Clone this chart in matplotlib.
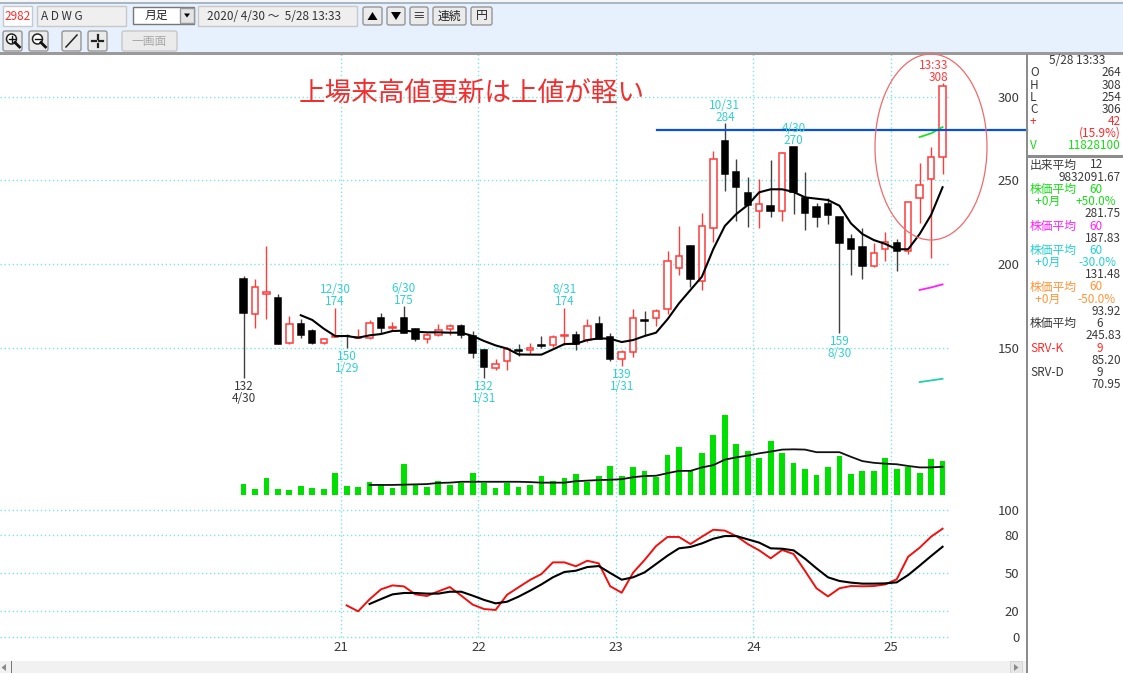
import numpy as np
import matplotlib
matplotlib.use("Agg")
import matplotlib.pyplot as plt
from matplotlib.patches import Ellipse, FancyBboxPatch, Rectangle, Circle, Polygon

plt.rcParams['font.family'] = ['Noto Sans CJK JP', 'DejaVu Sans']

W, H = 1123, 673

# Monthly candles, Apr 2020 .. May 2025
opens = [191, 170, 182, 180, 152.6, 164, 160, 152.8, 156.7, 157.3,
         156, 155.6, 168, 162, 168, 161, 155, 157.8, 161, 163.2,
         157, 148.4, 138, 142.3, 148.8, 148.4, 151.8, 151.8, 157, 157.8,
         154.8, 164.2, 156.2, 143.3, 147.3, 166.8, 168, 173, 197.8, 211,
         190, 221.7, 273.2, 254.7, 242.6, 231.6, 234.8, 231.6, 270, 239.6,
         233.8, 235.8, 227.9, 214.7, 210, 198.6, 209, 212.3, 207.8, 239.4,
         250.5, 264]
highs = [193, 191, 211, 182, 169, 167, 161, 156, 174, 158,
         161, 166.6, 171, 165.6, 175, 161.6, 159, 164.4, 164.4, 164,
         160, 149, 143, 150.6, 152, 153, 157, 157.6, 174, 160,
         167, 169, 159, 148.6, 173, 172, 173, 208, 222.7, 211.5,
         230.6, 267.7, 284, 262.7, 251.7, 250.5, 261.9, 267, 270, 254.7,
         236.2, 239.2, 228, 218, 221.7, 212.7, 218.9, 214.7, 237, 260.5,
         269.7, 308]
lows = [132, 162, 167, 152, 152, 156, 152, 152, 156.5, 150,
        156, 155, 158.6, 160.6, 158.6, 154, 152.6, 157.2, 157.6, 156,
        144, 132, 137, 137, 145, 146, 150, 150.6, 151.6, 148.6,
        153.2, 155, 142.3, 139, 144.3, 157.6, 163, 170, 193.4, 186.5,
        184.5, 213.3, 243.6, 225.7, 222.3, 221.5, 228.2, 225.7, 230, 220.3,
        222.3, 223.7, 159, 193.4, 190.9, 198, 202, 195.6, 206, 224.3,
        203.4, 254]
closes = [171, 186, 183, 152.4, 164, 157.6, 152.6, 155, 157, 157,
          156.5, 165, 162, 162.5, 159, 155, 157.4, 160.8, 163.2, 157.4,
          147, 138.3, 140, 149.3, 148.2, 149.9, 151, 156.4, 157.5, 152,
          163, 155.4, 143, 147.3, 168, 166.2, 172.1, 202, 204.8, 191,
          222.7, 262.7, 253.7, 245.8, 235.4, 235.6, 231.6, 266.5, 242.8, 230.4,
          227.9, 229.4, 212.7, 209, 198.8, 206.8, 213, 207.8, 236.8, 247.4,
          263.7, 306]

# 6 month average, starts at the 6th candle
ma6 = [169.4, 166.6, 161.4, 157, 157, 156, 157.4, 158.2, 160, 160.2,
       159.6, 159.2, 159.2, 159, 159, 157, 154, 151.4, 149.5, 146,
       145.9, 145.9, 149, 152.2, 152.4, 154.6, 155.6, 155.4, 153.4, 154.6,
       157, 159, 167, 176.5, 184.5, 192.4, 209, 222.7, 229.8, 235.2,
       242.8, 244.6, 244.6, 243, 239.8, 239, 238.2, 234.8, 224.3, 217.9,
       214.3, 212, 208.8, 208.8, 217.9, 229.3, 245.83]
# the 60 month envelopes only have the last three months
env_up = [275.8, 278, 281.75]
env_mid = [184.5, 186, 187.83]
env_down = [129.5, 130.5, 131.48]
resist = 280

# Volume, millions of shares
volume = [3.8, 2.0, 5.9, 2.0, 1.6, 3.1, 2.3, 2.0, 7.8, 3.1,
          2.8, 4.5, 3.4, 2.3, 10.8, 3.8, 2.8, 4.8, 3.4, 4.2,
          7.8, 4.2, 2.3, 4.2, 2.8, 3.4, 6.5, 4.8, 5.9, 7.3,
          4.5, 6.5, 10.2, 6.5, 9.6, 8.4, 6.3, 13.9, 16.7, 8.4,
          14.5, 21.0, 27.7, 17.6, 15.4, 13.0, 18.8, 14.5, 11.1, 9.0,
          6.9, 9.8, 13.6, 7.2, 8.4, 8.4, 13.0, 9.0, 9.8, 7.8,
          12.4, 11.83]
vol_ma = [3.5, 3.5, 3.5, 3.6, 3.7, 3.8, 4.2, 4.3, 4.6, 4.6,
          4.6, 4.6, 4.6, 4.6, 4.5, 4.3, 4.3, 4.3, 4.8, 5.0,
          5.2, 5.3, 5.5, 6.2, 6.6, 6.7, 7.6, 8.4, 8.4, 9.6,
          10.4, 12.3, 13.1, 13.7, 14.5, 15.1, 15.8, 15.9, 15.8, 14.9,
          14.9, 14.9, 13.3, 11.8, 11.2, 10.9, 10.7, 10.1, 9.6, 9.6,
          9.83]

# Stochastics
srv_k = [24.6, 19.9, 29.4, 37.3, 40.4, 39.6, 33.3, 32, 35.7, 39.1,
         32.3, 25.2, 21.7, 21, 33, 38.9, 44.7, 49.4, 58.6, 58.6,
         55.5, 59.9, 57.8, 39.7, 34.6, 50.5, 60.5, 71.5, 78.7, 78.7,
         73.1, 78.9, 84.4, 83.7, 79.4, 73.1, 68.1, 61.8, 68.4, 65.2,
         51.8, 38.1, 31.7, 38.1, 39.9, 39.7, 39.9, 41.2, 45.2, 63.1,
         70.2, 78.9, 85.2]
srv_d = [25.7, 29.6, 33.3, 34.4, 34.4, 33.9, 33.9, 35.4, 35.4, 32.3,
         28.9, 26.2, 27.5, 31.5, 36.2, 41.2, 46.8, 51, 52, 54.9,
         55.7, 50.2, 44.9, 46.8, 50.7, 57.3, 63.9, 69.7, 70.8, 73.6,
         77.3, 79.4, 79.4, 76.8, 74.2, 69.7, 69.4, 68.1, 61.5, 53.9,
         46.8, 43.9, 42.6, 41.8, 41.8, 42, 42.8, 48.6, 56, 63.6,
         70.95]

years = ['21', '22', '23', '24', '25']
year_pos = [8.5, 20.5, 32.5, 44.5, 56.5]
price_ticks = [150, 200, 250, 300]
srv_ticks = [0, 20, 50, 80, 100]

# high / low callouts: candle, text
high_notes = [(8, '12/30\n174'), (14, '6/30\n175'), (28, '8/31\n174'),
              (42, '10/31\n284'), (48, '4/30\n270')]
low_notes = [(9, '150\n1/29'), (21, '132\n1/31'), (33, '139\n1/31'), (52, '159\n8/30')]

ohlc_rows = [('O', '264', 'k'), ('H', '308', 'k'), ('L', '254', 'k'), ('C', '306', 'k'),
             ('+', '42', 'r'), ('', '(15.9%)', 'r'), ('V', '11828100', 'g')]
side_rows = [('出来平均', '12', 'k'), ('', '9832091.67', 'k'),
             ('株価平均', '60', 'g'), ('  +0月', '+50.0%', 'g'), ('', '281.75', 'k'),
             ('株価平均', '60', 'm'), ('', '187.83', 'k'),
             ('株価平均', '60', 'c'), ('  +0月', '-30.0%', 'c'), ('', '131.48', 'k'),
             ('株価平均', '60', 'o'), ('  +0月', '-50.0%', 'o'), ('', '93.92', 'k'),
             ('株価平均', '6', 'k'), ('', '245.83', 'k'),
             ('SRV-K', '9', 'r'), ('', '85.20', 'k'),
             ('SRV-D', '9', 'k'), ('', '70.95', 'k')]

RED = '#FF3B3B'
CYAN = '#35CFCF'
GRID = '#7FE3E3'
GREEN = '#00E000'
DARK = '#3A3A3A'
side_colors = {'k': DARK, 'r': '#FF2A2A', 'g': '#18DC18', 'm': '#FF20FF',
               'c': '#28CFCF', 'o': '#FF9438'}


def px_axes(x0, y0, x1, y1):
    ax = fig.add_axes([x0/W, 1 - y1/H, (x1 - x0)/W, (y1 - y0)/H])
    ax.patch.set_alpha(0)
    for s in ax.spines.values():
        s.set_visible(False)
    return ax


def dotted(ax):
    ax.grid(True, color=GRID, lw=1.0, linestyle=(0, (1, 1.9)), clip_on=False)
    ax.set_axisbelow(True)
    ax.set_xticks(year_pos)


fig = plt.figure(figsize=(W/100, H/100), dpi=100, facecolor='white')
xs = np.arange(len(closes))
xlim = ((0 - 243.5)/11.46, (950 - 243.5)/11.46)

# ---- price panel
ax = px_axes(0, 54, 950, 410)
ax.set_xlim(xlim)
ax.set_ylim(200 + (264 - 410)/1.675, 200 + (264 - 54)/1.675)
dotted(ax)
ax.set_xticklabels([])
ax.tick_params(length=0)
ax.yaxis.tick_right()
ax.set_yticks(price_ticks)
ax.tick_params(axis='y', pad=50, labelsize=9.5, labelcolor=DARK)
for t in ax.get_yticklabels():
    t.set_ha('right')

for i in xs:
    up = closes[i] >= opens[i]
    c = RED if up else '#404040'
    ax.vlines(i, lows[i], highs[i], color=c, lw=1.0, zorder=2)
    ax.bar(i, closes[i] - opens[i], bottom=opens[i], width=0.56,
           facecolor='white' if up else 'black',
           edgecolor=RED if up else 'black', lw=1.1, zorder=3)

ax.plot(xs[5:], ma6, color='black', lw=1.5, zorder=4)
ax.plot(xs[-3:], env_up, color='#20E020', lw=1.3, zorder=4)
ax.plot(xs[-3:], env_mid, color='#FF20FF', lw=1.3, zorder=4)
ax.plot(xs[-3:], env_down, color='#20CFB0', lw=1.3, zorder=4)
ax.plot([(657 - 243.5)/11.46, (1027 - 243.5)/11.46], [resist, resist],
        color='#0A50E0', lw=1.6, zorder=5, clip_on=False)

for i, txt in high_notes:
    ax.annotate(txt, (i, highs[i]), xytext=(0, -0.5), textcoords='offset points',
                ha='center', va='bottom', fontsize=8.5, color=CYAN, linespacing=0.9, zorder=6)
for i, txt in low_notes:
    ax.annotate(txt, (i, lows[i]), xytext=(0, -1.5), textcoords='offset points',
                ha='center', va='top', fontsize=8.5, color=CYAN, linespacing=0.9, zorder=6)
ax.annotate('132\n4/30', (0, lows[0]), xytext=(0, -1.5), textcoords='offset points',
            ha='center', va='top', fontsize=8.5, color=DARK, linespacing=0.9, zorder=6)
ax.annotate('13:33\n308', (61, highs[61]), xytext=(4, -1), textcoords='offset points',
            ha='right', va='bottom', fontsize=8.5, color=RED, linespacing=0.9, zorder=6)

# ---- volume panel
vx = px_axes(0, 410, 950, 505)
vx.set_xlim(xlim)
vx.set_ylim(-10*0.348, 85*0.348)
dotted(vx)
vx.grid(False, axis='y')
vx.set_yticks([])
vx.set_xticklabels([])
vx.tick_params(length=0)
vx.bar(xs, volume, width=0.5, color=GREEN, zorder=3)
vx.plot(xs[11:], vol_ma, color='#111111', lw=1.3, zorder=4)

# ---- stochastic panel
sx = px_axes(0, 505, 950, 636.5)
sx.set_xlim(xlim)
sx.set_ylim(0, (636.5 - 505)/1.265)
dotted(sx)
sx.set_xticklabels(years, fontsize=9.5, color=DARK)
sx.yaxis.tick_right()
sx.set_yticks(srv_ticks)
sx.tick_params(length=0)
sx.tick_params(axis='x', pad=3.5)
sx.tick_params(axis='y', pad=50, labelsize=9.5, labelcolor=DARK)
for t in sx.get_yticklabels():
    t.set_ha('right')
sx.plot(xs[9:], srv_k, color='#F01010', lw=1.4, zorder=3)
sx.plot(xs[11:], srv_d, color='black', lw=1.5, zorder=4)

# ---- window chrome and notes, in pixels
ui = fig.add_axes([0, 0, 1, 1], zorder=10)
ui.set_xlim(0, W)
ui.set_ylim(H, 0)
ui.axis('off')


def box(x0, y0, x1, y1, fc, ec='none', lw=1.0):
    ui.add_patch(Rectangle((x0, y0), x1 - x0, y1 - y0, facecolor=fc, edgecolor=ec, lw=lw))


def button(x0, y0, x1, y1, label='', color='#222222', edge='#8C8C8C', fs=8.5):
    ui.add_patch(FancyBboxPatch((x0 + 2, y0 + 2), x1 - x0 - 4, y1 - y0 - 4,
                                boxstyle='round,pad=2', facecolor='#EBEBEB', edgecolor=edge, lw=0.9))
    if label:
        ui.text((x0 + x1)/2, (y0 + y1)/2, label, ha='center', va='center', fontsize=fs, color=color)


def lens(cx, cy, plus):
    ui.add_patch(Circle((cx, cy), 5, facecolor='white', edgecolor='#222222', lw=1.1))
    ui.plot([cx + 3.5, cx + 8], [cy + 3.5, cy + 8], color='#111111', lw=2)
    ui.plot([cx - 3, cx + 3], [cy, cy], color='#111111', lw=1)
    if plus:
        ui.plot([cx, cx], [cy - 3, cy + 3], color='#111111', lw=1)


box(0, 0, W, 3, '#F4F6F8')
box(0, 2, W, 3.5, '#A9B6C4')
box(0, 3.5, W, 52, '#E6F1FD')
box(0, 52, W, 54.5, '#9A9A9A')

box(3, 6, 32, 25.5, 'white', '#C8C8C8')
ui.text(17.5, 16, '2982', color='#FF2A2A', fontsize=8.5, ha='center', va='center')
box(37, 6, 126, 26, '#EFEFEF', '#C8C8C8')
ui.text(41, 16, 'A D W G', color='#333333', fontsize=8.5, ha='left', va='center')
box(133, 7, 194, 23.5, 'white', '#777777')
ui.text(156, 15, '月足', color='#222222', fontsize=8.5, ha='center', va='center')
box(180, 8, 194, 23, '#E4E4E4', '#999999')
ui.add_patch(Polygon([[184, 13.5], [190, 13.5], [187, 17.5]], facecolor='black'))
box(198, 6, 357, 26, '#EFEFEF', '#C8C8C8')
ui.text(207, 16, '2020/ 4/30 ～  5/28 13:33', color='#333333', fontsize=8.5, ha='left', va='center')

button(363, 7, 382, 25)
ui.add_patch(Polygon([[367.5, 20], [377.5, 20], [372.5, 12]], facecolor='black'))
button(387, 7, 405, 25)
ui.add_patch(Polygon([[391, 12], [401, 12], [396, 20]], facecolor='black'))
button(410, 7, 428, 25, '≡', fs=9)
button(433, 7, 466, 25, '連続')
button(471, 7, 492, 25, '円')

button(3, 31, 22, 51)
lens(11.5, 39, True)
button(29, 31, 48, 51)
lens(37.5, 39, False)
button(62, 31, 81, 51)
ui.plot([66, 77], [47, 35], color='#222222', lw=1.1)
button(88, 31, 107, 51)
ui.plot([92, 96], [41, 41], color='#222222', lw=1.6)
ui.plot([99, 103], [41, 41], color='#222222', lw=1.6)
ui.plot([97.5, 97.5], [35, 38.5], color='#222222', lw=1.6)
ui.plot([97.5, 97.5], [43.5, 47], color='#222222', lw=1.6)
button(122, 31, 177, 51, '一画面', color='#A8A8A8', edge='#C4C4C4')

# right hand side
box(1026, 54, 1028, H, '#8C8C8C')
box(1028, 155, W, 157.5, '#8C8C8C')
ui.text(1077, 61, '5/28 13:33', fontsize=8.5, color=DARK, ha='center', va='center')
for n, (a, b, c) in enumerate(ohlc_rows):
    y = 73 + n*12.1
    ui.text(1030, y, a, fontsize=8.5, color=side_colors[c], ha='left', va='center')
    ui.text(1121, y, b, fontsize=8.5, color=side_colors[c], ha='right', va='center')
for n, (a, b, c) in enumerate(side_rows):
    y = 165 + n*12.2
    ui.text(1030, y, a, fontsize=8.5, color=side_colors[c], ha='left', va='center')
    if a.startswith('  ') or a == '':
        ui.text(1121 if a == '' else 1116, y, b, fontsize=8.5,
                color=side_colors[c], ha='right', va='center')
    else:
        ui.text(1103, y, b, fontsize=8.5, color=side_colors['r' if a == 'SRV-K' else c],
                ha='right', va='center')

# bottom scroll bar
box(0, 661, 1026, H, '#F1F1F1')
box(1010, 661, 1022, H, '#E6E6E6', '#D0D0D0', 0.6)
ui.add_patch(Polygon([[1014, 664], [1014, 671], [1018.5, 667.5]], facecolor='#8A8A8A'))
ui.add_patch(Polygon([[6, 664], [6, 671], [1.5, 667.5]], facecolor='#8A8A8A'))
box(10.5, 661, 12, H, '#777777')

# hand written notes
ui.text(299, 94.5, '上場来高値更新は上値が軽い', color='#F03030', fontsize=19.2,
        ha='left', va='center')
ui.add_patch(Ellipse((931, 147), 112, 186, facecolor='none', edgecolor='#F06A6A', lw=0.9))

fig.savefig('out.png', dpi=100)
